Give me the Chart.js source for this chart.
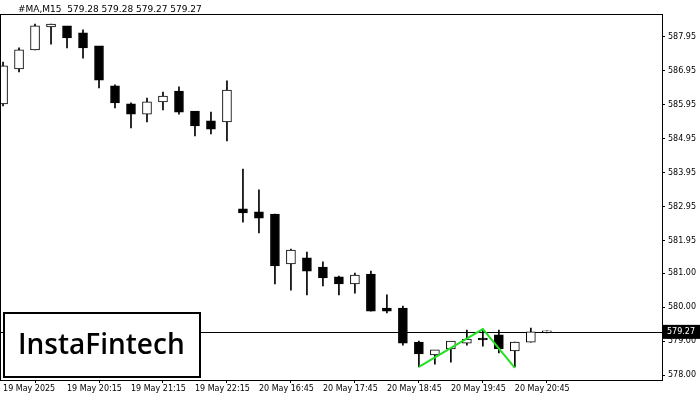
<!DOCTYPE html>
<html lang="en">
<head>
<meta charset="UTF-8">
<title>#MA,M15</title>
<script src="https://cdn.jsdelivr.net/npm/chart.js"></script>
<style>body{margin:0;background:#fff}</style>
</head>
<body>
<div style="width:700px;height:400px"><canvas id="myChart"></canvas></div>
<script>
// candle data, M15, index = slot on x axis
const opens  = [585.98,587.01,587.57,588.25,588.25,588.04,587.66,586.48,585.95,585.68,586.04,586.33,585.74,585.45,585.45,
                582.86,582.77,582.71,581.27,581.42,581.15,580.86,580.68,580.94,579.94,579.94,578.94,578.59,578.77,578.94,579.06,579.15,578.71,578.97,579.27];
const highs  = [587.21,587.63,588.33,588.33,588.25,588.16,587.66,586.54,586.01,586.15,586.33,586.48,585.74,585.74,586.66,
                584.06,583.45,582.74,581.71,581.62,581.33,580.91,581.00,581.06,580.36,580.03,579.00,578.71,578.97,579.32,579.35,579.32,578.97,579.38,579.30];
const lows   = [585.92,586.92,587.57,587.74,587.63,587.33,586.45,585.86,585.27,585.45,585.80,585.68,585.04,585.10,584.89,
                582.50,582.18,580.68,580.50,580.36,580.62,580.36,580.41,579.88,579.83,578.88,578.24,578.32,578.38,578.88,578.85,578.65,578.24,578.97,579.24];
const closes = [587.07,587.54,588.25,588.30,587.92,587.63,586.68,586.01,585.68,586.01,586.18,585.74,585.33,585.24,586.36,
                582.77,582.62,581.21,581.65,581.06,580.86,580.68,580.91,579.88,579.88,578.94,578.62,578.71,578.97,579.03,579.03,578.77,578.94,579.24,579.27];

const patternX = [26, 30, 32];
const patternY = [578.24, 579.35, 578.21];

const timeTickPos = [0, 4, 8, 12, 16, 20, 24, 28, 32];
const timeLabels = ['19 May 2025','19 May 20:15','19 May 21:15','19 May 22:15','20 May 16:45','20 May 17:45','20 May 18:45','20 May 19:45','20 May 20:45'];
const priceTicks = [578.0,579.0,580.0,581.0,581.95,582.95,583.95,584.95,585.95,586.95,587.95];
const priceLabels = ['578.00','579.00','580.00','581.00','581.95','582.95','583.95','584.95','585.95','586.95','587.95'];
const lastPrice = 579.27;
const header = '#MA,M15  579.28 579.28 579.27 579.27';

const up = opens.map((o, i) => closes[i] >= o);

const overlay = {
    id: 'overlay',
    beforeDatasetsDraw(chart) {
        const {ctx, chartArea: a, scales: {y}} = chart;
        const py = Math.round(y.getPixelForValue(lastPrice)) + 0.5;
        ctx.save();
        ctx.strokeStyle = '#000'; ctx.lineWidth = 1;
        ctx.beginPath(); ctx.moveTo(a.left, py); ctx.lineTo(a.right, py); ctx.stroke();
        ctx.restore();
    },
    afterDraw(chart) {
        const {ctx, chartArea: a, scales: {y}} = chart;
        ctx.save();
        ctx.strokeStyle = '#000'; ctx.lineWidth = 1;
        ctx.strokeRect(a.left + 0.5, a.top + 0.5, a.right - a.left, a.bottom - a.top);
        ctx.fillStyle = '#000'; ctx.font = '9px "DejaVu Sans"'; ctx.textBaseline = 'middle';
        ctx.fillText(header, 18, 10);
        const py = y.getPixelForValue(lastPrice);
        ctx.fillRect(a.right + 1, py - 7, 38, 14);
        ctx.fillStyle = '#fff'; ctx.textAlign = 'left'; ctx.font = '8px "DejaVu Sans"';
        ctx.fillText(lastPrice.toFixed(2), a.right + 5, py + 0.5);
        // logo box
        ctx.fillStyle = '#fff'; ctx.fillRect(3, 312, 198, 66);
        ctx.strokeStyle = '#000'; ctx.lineWidth = 2; ctx.strokeRect(4, 313, 196, 64);
        ctx.fillStyle = '#000'; ctx.font = '600 28px "Open Sans"'; ctx.textBaseline = 'middle';
        ctx.fillText('InstaFintech', 18, 346);
        ctx.restore();
    }
};

const ctx = document.getElementById('myChart').getContext('2d');
new Chart(ctx, {
    data: {
        datasets: [
            {
                type: 'line', data: patternX.map((x, i) => ({x: x, y: patternY[i]})),
                borderColor: '#22e022', borderWidth: 2, pointRadius: 0, order: 0
            },
            {
                type: 'bar', data: opens.map((o, i) => ({x: i, y: [Math.min(o, closes[i]), Math.max(o, closes[i]) + 0.03]})),
                backgroundColor: up.map(u => u ? '#fff' : '#000'), borderColor: '#000', borderWidth: 1,
                borderSkipped: false, barThickness: 9, grouped: false, order: 1
            },
            {
                type: 'bar', data: lows.map((l, i) => ({x: i, y: [l, highs[i]]})),
                backgroundColor: '#000', borderWidth: 0, barThickness: 1, grouped: false, order: 2
            }
        ]
    },
    options: {
        animation: false, responsive: true, maintainAspectRatio: false,
        layout: {padding: {top: 14, left: 0, right: 0, bottom: 0}},
        plugins: {legend: {display: false}, tooltip: {enabled: false}},
        scales: {
            x: {
                type: 'linear', min: -0.19, max: 41.2, offset: false,
                grid: {display: true, drawOnChartArea: false, tickLength: 3, color: '#000'},
                border: {display: false},
                afterBuildTicks: s => { s.ticks = timeTickPos.map(v => ({value: v})); },
                afterFit: s => { s.height = 20; },
                ticks: {
                    autoSkip: false, maxRotation: 0, align: 'start', padding: 1, color: '#000',
                    font: {family: 'DejaVu Sans', size: 8},
                    callback: v => timeLabels[timeTickPos.indexOf(v)]
                }
            },
            y: {
                position: 'right', min: 577.853, max: 588.627,
                grid: {display: true, drawOnChartArea: false, tickLength: 3, color: '#000'},
                border: {display: false},
                afterBuildTicks: s => { s.ticks = priceTicks.map(v => ({value: v})); },
                afterFit: s => { s.width = 38; },
                ticks: {
                    autoSkip: false, padding: 3, color: '#000',
                    font: {family: 'DejaVu Sans', size: 8},
                    callback: v => priceLabels[priceTicks.indexOf(v)]
                }
            }
        }
    },
    plugins: [overlay]
});
</script>
</body>
</html>
